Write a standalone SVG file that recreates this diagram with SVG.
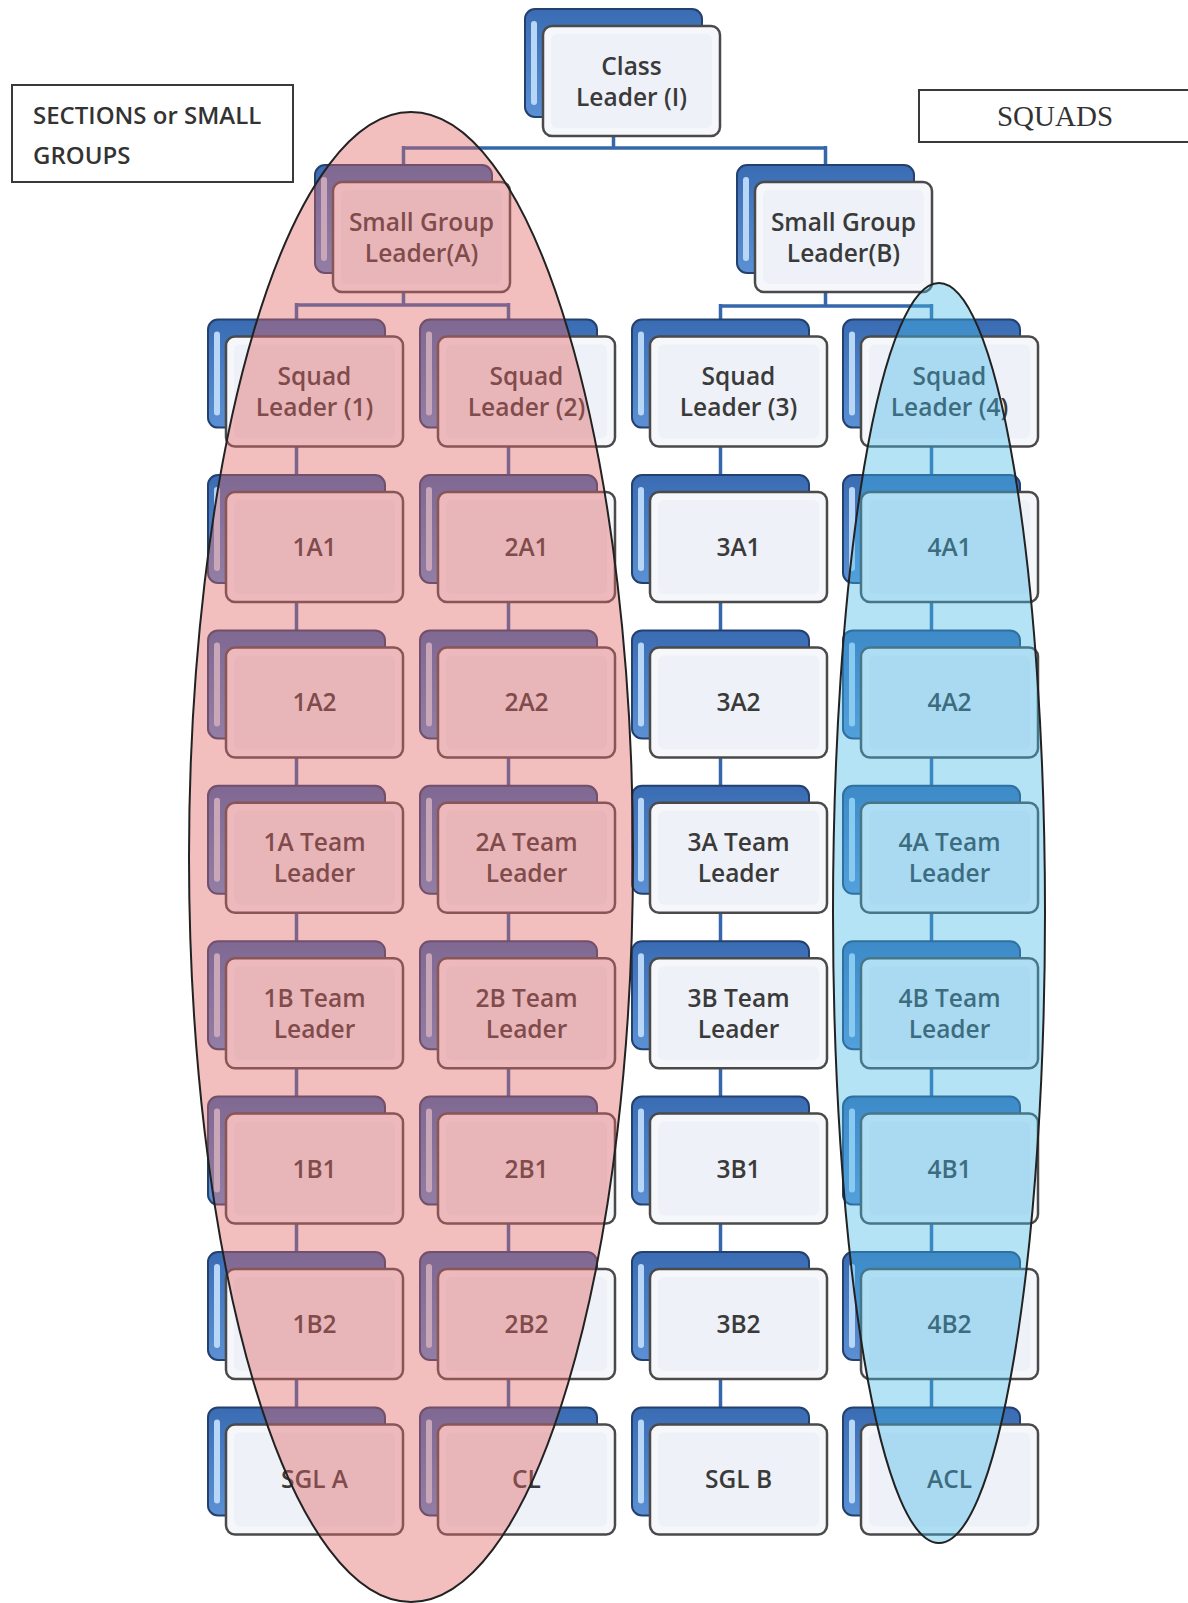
<svg xmlns="http://www.w3.org/2000/svg" xmlns:xlink="http://www.w3.org/1999/xlink" width="1188" height="1603" viewBox="0 0 1188 1603">
<style>
.bk{fill:url(#bkg);stroke:#24406e;stroke-width:2}
.hl{fill:#b8d7f6}
.fr{fill:#f6f7fb;stroke:#4a4a4a;stroke-width:2.5}
.in{fill:#eef1f7}
.t{font-family:"Open Sans","Liberation Sans",sans-serif;font-size:24.5px;font-weight:600;fill:#3a3a3a;text-anchor:middle}
.c{fill:none;stroke:#3567aa;stroke-width:3.5}
.lb{fill:#fff;stroke:#3a3a3a;stroke-width:2}
</style>
<defs>
<linearGradient id="bkg" x1="0" y1="0" x2="0" y2="1">
<stop offset="0" stop-color="#3a6cb3"/>
<stop offset="1" stop-color="#5b90d4"/>
</linearGradient>
<g id="box">
<rect class="bk" x="0" y="0" width="177" height="108" rx="10"/>
<rect class="hl" x="6" y="12" width="6" height="84" rx="3"/>
<rect class="fr" x="18" y="17" width="177" height="110" rx="9"/>
<rect class="in" x="26" y="25" width="161" height="94" rx="6"/>
</g>
</defs>
<rect width="1188" height="1603" fill="#fff"/>

<g id="connectors">
<path class="c" d="M613.5 120V148M403.5 148H825.5M403.5 146V170M825.5 146V170"/>
<path class="c" d="M403.5 280V305M296.5 305H508.5M296.5 303V325M508.5 303V325"/>
<path class="c" d="M825.5 280V306M720.5 306H931.5M720.5 304V325M931.5 304V325"/>
<path class="c" d="M296.5 446V480M296.5 602V635M296.5 757V791M296.5 912V946M296.5 1068V1102M296.5 1223V1257M296.5 1379V1412"/>
<path class="c" d="M508.5 446V480M508.5 602V635M508.5 757V791M508.5 912V946M508.5 1068V1102M508.5 1223V1257M508.5 1379V1412"/>
<path class="c" d="M720.5 446V480M720.5 602V635M720.5 757V791M720.5 912V946M720.5 1068V1102M720.5 1223V1257M720.5 1379V1412"/>
<path class="c" d="M931.5 446V480M931.5 602V635M931.5 757V791M931.5 912V946M931.5 1068V1102M931.5 1223V1257M931.5 1379V1412"/>
</g>

<g id="n-class" transform="translate(525,9)"><use xlink:href="#box"/><text class="t" x="106.5" y="65.5">Class</text><text class="t" x="106.5" y="96.5">Leader (I)</text></g>
<g id="n-sga" transform="translate(315,165)"><use xlink:href="#box"/><text class="t" x="106.5" y="65.5">Small Group</text><text class="t" x="106.5" y="96.5">Leader(A)</text></g>
<g id="n-sgb" transform="translate(737,165)"><use xlink:href="#box"/><text class="t" x="106.5" y="65.5">Small Group</text><text class="t" x="106.5" y="96.5">Leader(B)</text></g>

<g id="n-sl1" transform="translate(208,319.6)"><use xlink:href="#box"/><text class="t" x="106.5" y="65.5">Squad</text><text class="t" x="106.5" y="96.5">Leader (1)</text></g>
<g id="n-1a1" transform="translate(208,475)"><use xlink:href="#box"/><text class="t" x="106.5" y="81">1A1</text></g>
<g id="n-1a2" transform="translate(208,630.4)"><use xlink:href="#box"/><text class="t" x="106.5" y="81">1A2</text></g>
<g id="n-1at" transform="translate(208,785.8)"><use xlink:href="#box"/><text class="t" x="106.5" y="65.5">1A Team</text><text class="t" x="106.5" y="96.5">Leader</text></g>
<g id="n-1bt" transform="translate(208,941.2)"><use xlink:href="#box"/><text class="t" x="106.5" y="65.5">1B Team</text><text class="t" x="106.5" y="96.5">Leader</text></g>
<g id="n-1b1" transform="translate(208,1096.6)"><use xlink:href="#box"/><text class="t" x="106.5" y="81">1B1</text></g>
<g id="n-1b2" transform="translate(208,1252)"><use xlink:href="#box"/><text class="t" x="106.5" y="81">1B2</text></g>
<g id="n-sgla" transform="translate(208,1407.4)"><use xlink:href="#box"/><text class="t" x="106.5" y="81">SGL A</text></g>

<g id="n-sl2" transform="translate(420,319.6)"><use xlink:href="#box"/><text class="t" x="106.5" y="65.5">Squad</text><text class="t" x="106.5" y="96.5">Leader (2)</text></g>
<g id="n-2a1" transform="translate(420,475)"><use xlink:href="#box"/><text class="t" x="106.5" y="81">2A1</text></g>
<g id="n-2a2" transform="translate(420,630.4)"><use xlink:href="#box"/><text class="t" x="106.5" y="81">2A2</text></g>
<g id="n-2at" transform="translate(420,785.8)"><use xlink:href="#box"/><text class="t" x="106.5" y="65.5">2A Team</text><text class="t" x="106.5" y="96.5">Leader</text></g>
<g id="n-2bt" transform="translate(420,941.2)"><use xlink:href="#box"/><text class="t" x="106.5" y="65.5">2B Team</text><text class="t" x="106.5" y="96.5">Leader</text></g>
<g id="n-2b1" transform="translate(420,1096.6)"><use xlink:href="#box"/><text class="t" x="106.5" y="81">2B1</text></g>
<g id="n-2b2" transform="translate(420,1252)"><use xlink:href="#box"/><text class="t" x="106.5" y="81">2B2</text></g>
<g id="n-cl" transform="translate(420,1407.4)"><use xlink:href="#box"/><text class="t" x="106.5" y="81">CL</text></g>

<g id="n-sl3" transform="translate(632,319.6)"><use xlink:href="#box"/><text class="t" x="106.5" y="65.5">Squad</text><text class="t" x="106.5" y="96.5">Leader (3)</text></g>
<g id="n-3a1" transform="translate(632,475)"><use xlink:href="#box"/><text class="t" x="106.5" y="81">3A1</text></g>
<g id="n-3a2" transform="translate(632,630.4)"><use xlink:href="#box"/><text class="t" x="106.5" y="81">3A2</text></g>
<g id="n-3at" transform="translate(632,785.8)"><use xlink:href="#box"/><text class="t" x="106.5" y="65.5">3A Team</text><text class="t" x="106.5" y="96.5">Leader</text></g>
<g id="n-3bt" transform="translate(632,941.2)"><use xlink:href="#box"/><text class="t" x="106.5" y="65.5">3B Team</text><text class="t" x="106.5" y="96.5">Leader</text></g>
<g id="n-3b1" transform="translate(632,1096.6)"><use xlink:href="#box"/><text class="t" x="106.5" y="81">3B1</text></g>
<g id="n-3b2" transform="translate(632,1252)"><use xlink:href="#box"/><text class="t" x="106.5" y="81">3B2</text></g>
<g id="n-sglb" transform="translate(632,1407.4)"><use xlink:href="#box"/><text class="t" x="106.5" y="81">SGL B</text></g>

<g id="n-sl4" transform="translate(843,319.6)"><use xlink:href="#box"/><text class="t" x="106.5" y="65.5">Squad</text><text class="t" x="106.5" y="96.5">Leader (4)</text></g>
<g id="n-4a1" transform="translate(843,475)"><use xlink:href="#box"/><text class="t" x="106.5" y="81">4A1</text></g>
<g id="n-4a2" transform="translate(843,630.4)"><use xlink:href="#box"/><text class="t" x="106.5" y="81">4A2</text></g>
<g id="n-4at" transform="translate(843,785.8)"><use xlink:href="#box"/><text class="t" x="106.5" y="65.5">4A Team</text><text class="t" x="106.5" y="96.5">Leader</text></g>
<g id="n-4bt" transform="translate(843,941.2)"><use xlink:href="#box"/><text class="t" x="106.5" y="65.5">4B Team</text><text class="t" x="106.5" y="96.5">Leader</text></g>
<g id="n-4b1" transform="translate(843,1096.6)"><use xlink:href="#box"/><text class="t" x="106.5" y="81">4B1</text></g>
<g id="n-4b2" transform="translate(843,1252)"><use xlink:href="#box"/><text class="t" x="106.5" y="81">4B2</text></g>
<g id="n-acl" transform="translate(843,1407.4)"><use xlink:href="#box"/><text class="t" x="106.5" y="81">ACL</text></g>

<g id="highlights">
<ellipse id="sections-oval" cx="411" cy="857" rx="222" ry="745" fill="#e06464" fill-opacity="0.42" stroke="#222" stroke-width="2"/>
<ellipse id="squads-oval" cx="939" cy="913" rx="106" ry="630" fill="#44b8e8" fill-opacity="0.4" stroke="#222" stroke-width="2"/>
</g>

<g id="label-sections">
<rect class="lb" x="12" y="85" width="281" height="97"/>
<text x="33" y="124" font-family="Open Sans, Liberation Sans, sans-serif" font-size="24" font-weight="600" fill="#333">SECTIONS or SMALL</text>
<text x="33" y="164" font-family="Open Sans, Liberation Sans, sans-serif" font-size="24" font-weight="600" fill="#333">GROUPS</text>
</g>
<g id="label-squads">
<rect class="lb" x="919" y="90" width="280" height="52"/>
<text x="1055" y="126" font-family="Liberation Serif, serif" font-size="29" fill="#333" text-anchor="middle">SQUADS</text>
</g>
</svg>
